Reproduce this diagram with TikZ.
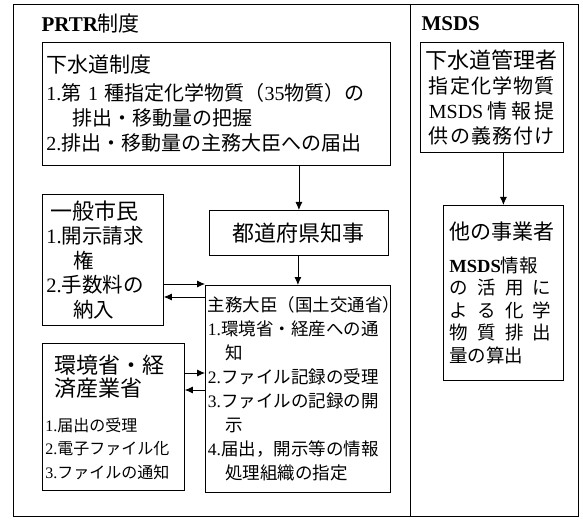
\documentclass[tikz,border=0pt]{standalone}
\usepackage{fontspec}
\setmainfont{Noto Sans CJK JP}
\newfontfamily\lat{Liberation Serif}
\newcommand\ltn[1]{{\lat #1}}
\newcommand\spr[2]{\makebox[#1][s]{#2}}
\usetikzlibrary{arrows.meta}
\begin{document}
\begin{tikzpicture}[x=1pt,y=-1pt,
  box/.style={draw, line width=0.8pt, anchor=north west, inner ysep=0pt},
  arr/.style={-{Latex[length=8pt,width=7pt]}, line width=0.8pt},
  frame/.style={line width=0.8pt}]
\useasboundingbox (0,0) rectangle (583,521);
\draw[frame] (13,4) rectangle (578,516);
\draw[frame] (410,4) -- (410,516);

\node[anchor=west, font=\fontsize{21}{22}\selectfont] (prtr) at (38,24) {\ltn{\bfseries PRTR}制度};
\node[anchor=west, font=\lat\bfseries\fontsize{21}{22}\selectfont] (msds) at (418,24) {MSDS};

% PRTR side
\node[box, minimum width=348, minimum height=123, text width=340, inner xsep=4pt, align=left,
      font=\fontsize{20}{25}\selectfont] (gesui) at (42,42)
 {{\fontsize{21}{25}\selectfont 下水道制度}\\[3pt]
  \ltn{1.}第\ltn{~1~}種指定化学物質（\ltn{35}物質）の\\
  \hspace*{1.3em}排出・移動量の把握\\
  \ltn{2.}排出・移動量の主務大臣への届出};

\node[box, minimum width=179, minimum height=45, align=center,
      font=\fontsize{22}{24}\selectfont] (todo) at (209,210) {都道府県知事};

\node[box, minimum width=121, minimum height=131, text width=113, inner xsep=4pt, align=left,
      font=\fontsize{20.5}{24.5}\selectfont] (ippan) at (42,194)
 {{\fontsize{22}{24.5}\selectfont\hspace*{0.2em}一般市民}\\
  \ltn{1.}開示請求\\
  \hspace*{1.3em}権\\
  \ltn{2.}手数料の\\
  \hspace*{1.3em}納入};

\node[box, minimum width=185, minimum height=207, text width=180, inner xsep=2.5pt, align=left,
      font=\fontsize{17.5}{24}\selectfont] (shumu) at (205,285)
 {主務大臣（国土交通省）\\
  \ltn{1.}環境省・経産への通\\
  \hspace*{1em}知\\
  \ltn{2.}ファイル記録の受理\\
  \ltn{3.}ファイルの記録の開\\
  \hspace*{1em}示\\
  \ltn{4.}届出，開示等の情報\\
  \hspace*{1em}処理組織の指定};

\node[box, minimum width=142, minimum height=147, text width=136, inner xsep=3pt, align=left,
      font=\fontsize{16}{23.5}\selectfont] (kankyo) at (42,343)
 {{\fontsize{22}{23.5}\selectfont\hspace*{0.4em}環境省・経\\\hspace*{0.4em}済産業省}\\[11pt]
  \ltn{1.}届出の受理\\
  \ltn{2.}電子ファイル化\\
  \ltn{3.}ファイルの通知};

% MSDS side
\node[box, minimum width=143, minimum height=110, text width=137, inner xsep=3pt, align=center,
      font=\fontsize{20}{25}\selectfont] (kanri) at (420,42)
 {{\fontsize{22}{25}\selectfont 下水道管理者}\\
  \spr{126pt}{指\hfil 定\hfil 化\hfil 学\hfil 物\hfil 質}\\
  \spr{126pt}{\ltn{MSDS}\hfil 情\hfil 報\hfil 提}\\
  \spr{126pt}{供\hfil の\hfil 義\hfil 務\hfil 付\hfil け}};

\node[box, minimum width=120, minimum height=175, text width=108, inner xsep=6pt, align=left,
      font=\fontsize{18.5}{22.5}\selectfont] (jigyo) at (443,205)
 {{\fontsize{21}{22.5}\selectfont 他の事業者}\\[10pt]
  \spr{102pt}{\ltn{\bfseries MSDS}情報}\\
  \spr{102pt}{の\hfil 活\hfil 用\hfil に}\\
  \spr{102pt}{よ\hfil る\hfil 化\hfil 学}\\
  \spr{102pt}{物\hfil 質\hfil 排\hfil 出}\\
  量の算出};

% connectors
\coordinate (y1) at (0,284);
\coordinate (y2) at (0,297);
\coordinate (y3) at (0,373);
\coordinate (y4) at (0,390);
\draw[arr] (gesui.south -| todo.north) -- (todo.north);
\draw[arr] (todo.south -| shumu.north) -- (shumu.north);
\draw[arr] (ippan.east |- y1) -- (shumu.west |- y1);
\draw[arr] (shumu.west |- y2) -- (ippan.east |- y2);
\draw[arr] (kankyo.east |- y3) -- (shumu.west |- y3);
\draw[arr] (shumu.west |- y4) -- (kankyo.east |- y4);
\draw[arr] (kanri.south -| jigyo.north) -- (jigyo.north);
\end{tikzpicture}
\end{document}
